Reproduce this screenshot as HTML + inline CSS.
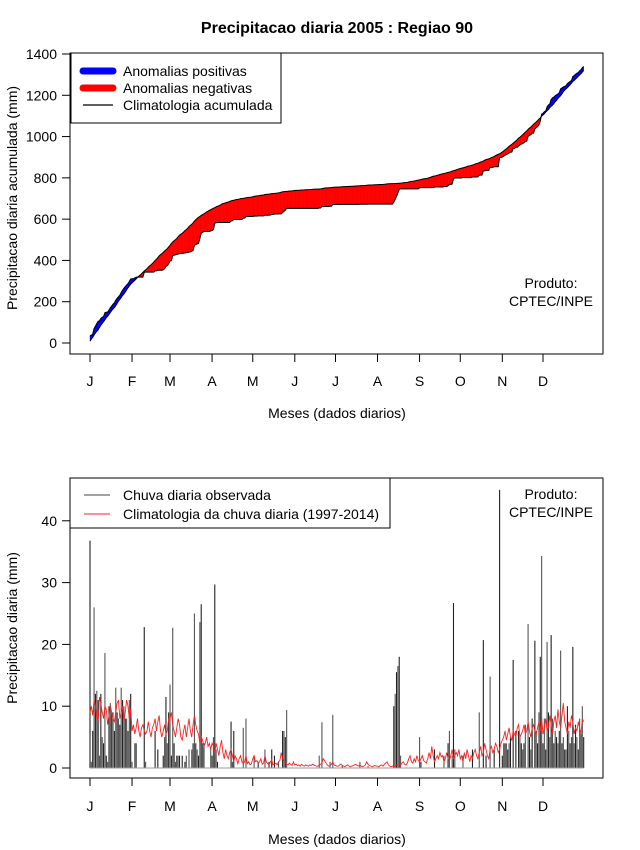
<!DOCTYPE html>
<html><head><meta charset="utf-8"><style>
html,body{margin:0;padding:0;background:#fff;}
svg{display:block;font-family:"Liberation Sans",Arial,sans-serif;}
</style></head><body>
<svg id="chart" width="640" height="850" viewBox="0 0 640 850" xmlns="http://www.w3.org/2000/svg">
<rect width="640" height="850" fill="#fff"/>
<text x="337" y="33" text-anchor="middle" font-size="16" font-weight="bold">Precipitacao diaria 2005 : Regiao 90</text>
<g id="top"></g>
<g id="bot"></g>
</svg>
<script>
const monthLabels = ["J","F","M","A","M","J","J","A","S","O","N","D"];
const monthStartDays = [1,32,60,91,121,152,182,213,244,274,305,335];
const topTicks = [0,200,400,600,800,1000,1200,1400];
const botTicks = [0,10,20,30,40];
const obsJan = [36.8,1,6,26,12,12.5,11,2,12,5,4,18.6,2,1,10,10.5,9,9,6,13,9,8,7,13,11,10,8,8,6,11,12];
const obsFeb = [1,0,4,4,0,0,0,0,0,22.8,1,0,0,0,0,0,0,6,0,3,0,0,0,2,5,11.5,4,9];
const obsMar = [13.5,2,22.7,4,1,2,2,2,0,2,0,1,2,0,3,0,3,4,25,4,3,2,23.6,26.5,4,4,0,0,0,0,3];
const obsApr = [2,5,29.7,3,1,0,0,0,0,0,0,0,0,0,7.5,1,6,0,0,0,0,0,0,6.5,0,8,0,0,0,0];
const obsMay = [0,2,0,0,1,0,0,0,0,3,0,0,1,0,3,0,2,0,0,1,0,0,6,6,5,9.4,0,0,0,0,0];
const obsJun = [0,0,0,0,0,0,0,0,0,0,0,0,0,0,0,0,0,0,2,0,7.4,0,0,0,0,0,1,0,8.6,0];
const obsJul = [0,0,0,0,0,0.3,0,0,0,0,0,0,0,0,0,0,0,0,1,0,0,0,0,0,0.3,0,0,0,0,0,0];
const obsAug = [0,0,0,0,0,0,0,0,0,0,0,0,10,12,15.5,16.5,18,2,0,0,0,0,0,0,0,0,0,0,0,0,0];
const obsSep = [5,1,0,0,0,0,0,0,0,0,0,3,0,0,0,0,0,0,2,0,0,4,6,0,2,26.7,3,0,0,0];
const obsOct = [0,0,2,0,0,0,0,0,0,3,0,0,0,0,9,0,0,20.7,0,2,0,0,14.8,0,0,3,0,0,0,45,0];
const obsNov = [2,4,4,4,3,4,5,0,17.5,0,6,0,6,5,4,3,4,7,0,23.3,5,3,8,0,20.6,6,4,9,18,34.3];
const obsDec = [4,8,3,20.4,9,5,21.5,8,4,6,5,4,6,19,4,5,3,3,10,6,4,5,19.6,4,7,5,3,8,6,10,5];
const climJan = [9,10,8.5,11,10,8,7.5,11.5,10.5,9,8,10,9.5,7,8.5,10,9,8,7.5,9,10.5,11,8,9,10,7.5,9,11,10,8,9.5];
const climFeb = [6,7,5.5,6.5,8,6,5,6.5,7,6,5.5,6,7.5,6,5,6.5,7,8,6,7.5,8.5,6,5,6,7,5.5,6,8];
const climMar = [8,9,7,6,5,6.5,8,7,5,4.5,6,7,5,6.5,8,6,5,7,8.5,7,6,5.5,4,5,4.5,3.5,4,5,3.5,4,3];
const climApr = [4,3.5,2.5,4,3,2,3.5,4.5,2.5,1.5,3,2,1.5,2.5,3,2,1,2,1.5,0.7,1.5,2,1,0.7,1,2,0.7,1,0.5,0.7];
const climMay = [1.5,2,1,1.2,0.8,1,1.5,0.6,0.8,2,1,0.7,0.5,1,1.3,0.5,0.6,0.8,0.5,1,1.2,2.5,1.5,1,0.8,0.6,0.5,0.8,0.6,0.4,1];
const climJun = [0.5,0.6,0.4,0.5,0.3,0.6,0.4,0.3,0.5,0.4,0.3,0.5,0.4,0.6,0.5,0.4,0.3,0.3,0.5,0.6,0.8,1.5,1.2,0.8,0.5,0.3,0.4,0.6,1,0.5];
const climJul = [0.4,0.3,0.3,0.5,0.6,0.4,0.3,0.2,0.4,0.5,0.3,0.2,0.3,0.4,0.5,0.6,0.4,0.3,0.5,0.3,0.2,0.3,0.5,1,0.6,0.4,0.3,0.2,0.3,0.4,0.3];
const climAug = [0.3,0.2,0.4,0.5,0.3,0.6,0.8,1,0.5,0.3,0.2,0.3,0.2,0.3,0.5,0.4,0.6,0.5,0.8,1,0.6,0.5,0.8,1.5,2,1,0.8,1.5,1,2,1.2];
const climSep = [1,1.5,2,1.2,1,0.8,1.5,2.5,1.5,3.5,2,1,1.5,2,1.5,2.5,1.8,2,1,1.5,2.5,1.5,1.2,2,3,1.5,2,2.5,2,3];
const climOct = [1.5,2,1,2.5,1.5,3,2,1,2,1.5,2.5,3,2,1.5,2.5,3.5,2,2.5,4,3,2,1.5,3,3.5,2.5,3,4,3.5,2.5,3,4];
const climNov = [4.5,5,6,4.5,5.5,6.5,5,4.5,6,5.5,5,6.5,7,5,5.5,6,7,5.5,6,7.5,6,5,6.5,7,6,5.5,6.5,7.5,6,8];
const climDec = [5.5,6.5,8,6,6.5,8.5,7,5.5,7.5,8.5,6.5,9.5,7.5,6.5,8.5,10.5,7.5,6.5,5.5,7.5,6.5,8.5,7.5,5.5,6.5,6,7.5,6.5,5.5,8,7.5];

const obs = [].concat(obsJan,obsFeb,obsMar,obsApr,obsMay,obsJun,obsJul,obsAug,obsSep,obsOct,obsNov,obsDec);
const clim = [].concat(climJan,climFeb,climMar,climApr,climMay,climJun,climJul,climAug,climSep,climOct,climNov,climDec);
const NS="http://www.w3.org/2000/svg";
function mk(parent,tag,attrs){const e=document.createElementNS(NS,tag);for(const k in attrs)e.setAttribute(k,attrs[k]);parent.appendChild(e);return e;}
function xS(d){return 90+(d-1)*453/334;}
function yT(v){return 343-v*289/1400;}
function yB(v){return 768-v*6.18;}

const cumObs=[],cumClim=[];let a=0,b=0;
for(let i=0;i<obs.length;i++){a+=obs[i];b+=clim[i];cumObs.push(a);cumClim.push(b);}

function drawAxes(g,top,bottom,yFn,ticks,ylabel,ylabelY,monthY,xlabelY,prefix){
  const box=mk(g,'rect',{x:70,y:top,width:533,height:bottom-top,fill:'none',stroke:'#000','stroke-width':1});
  
  
  ticks.forEach(t=>{
    const y=yFn(t);
    const tl=mk(g,'line',{x1:62,x2:70,y1:y,y2:y,stroke:'#000'});
    
    
    const tx=mk(g,'text',{x:57,y:y+5,'text-anchor':'end','font-size':14});
    tx.textContent=t;
    
    
  });
  monthStartDays.forEach((d,i)=>{
    const x=xS(d);
    const tl=mk(g,'line',{x1:x,x2:x,y1:bottom,y2:bottom+8,stroke:'#000'});
    
    
    const tx=mk(g,'text',{x:x,y:monthY,'text-anchor':'middle','font-size':14});
    tx.textContent=monthLabels[i];
    
    
  });
  const xl=mk(g,'text',{x:337,y:xlabelY,'text-anchor':'middle','font-size':14});
  xl.textContent='Meses (dados diarios)';
  
  
  const yl=mk(g,'text',{x:0,y:0,'text-anchor':'middle','font-size':14,transform:`translate(17,${ylabelY}) rotate(-90)`});
  yl.textContent=ylabel;
  
  
}

// TOP PANEL
const gt=document.getElementById('top');
for(let i=0;i<cumObs.length-1;i++){
  const pos=(cumObs[i]+cumObs[i+1])>(cumClim[i]+cumClim[i+1]);
  const p=mk(gt,'polygon',{points:`${xS(i+1)},${yT(cumObs[i])} ${xS(i+2)},${yT(cumObs[i+1])} ${xS(i+2)},${yT(cumClim[i+1])} ${xS(i+1)},${yT(cumClim[i])}`,fill:pos?'#0000ff':'#ff0000',stroke:pos?'#0000ff':'#ff0000','stroke-width':0.4});
  
  
}
const ptsO=cumObs.map((v,i)=>`${xS(i+1)},${yT(v)}`).join(' ');
const ptsC=cumClim.map((v,i)=>`${xS(i+1)},${yT(v)}`).join(' ');
const lo=mk(gt,'polyline',{points:ptsO,fill:'none',stroke:'#000','stroke-width':1});


const lc=mk(gt,'polyline',{points:ptsC,fill:'none',stroke:'#000','stroke-width':1});


drawAxes(gt,53,354,yT,topTicks,'Precipitacao diaria acumulada (mm)',198,386,418,'top');

const lg=mk(gt,'g',{});


mk(lg,'rect',{x:71,y:53,width:210,height:70,fill:'#fff',stroke:'#000'});
const topLeg=[['Anomalias positivas','#0000ff',7,71],['Anomalias negativas','#ff0000',7,88],['Climatologia acumulada','#000',1.2,105]];
topLeg.forEach(l=>{
  const e=mk(lg,'g',{});
  
  
  mk(e,'line',{x1:83,x2:113,y1:l[3],y2:l[3],stroke:l[1],'stroke-width':l[2],'stroke-linecap':l[2]>2?'round':'butt'});
  const t=mk(e,'text',{x:123,y:l[3]+5,'font-size':14});t.textContent=l[0];
});
const pr1=mk(gt,'text',{x:551,y:288,'text-anchor':'middle','font-size':14});pr1.textContent='Produto:';


const pr2=mk(gt,'text',{x:551,y:306,'text-anchor':'middle','font-size':14});pr2.textContent='CPTEC/INPE';



// BOTTOM PANEL
const gb=document.getElementById('bot');
obs.forEach((v,i)=>{
  if(v<=0)return;
  const x=xS(i+1);
  const l=mk(gb,'line',{x1:x,x2:x,y1:yB(0),y2:yB(v),stroke:i%2?'#555':'#222','stroke-width':1.1});
  
  
});
const base=mk(gb,'line',{x1:xS(1),x2:xS(365),y1:yB(0),y2:yB(0),stroke:'#999','stroke-width':1});


const cl=mk(gb,'polyline',{points:clim.map((v,i)=>`${xS(i+1)},${yB(v)}`).join(' '),fill:'none',stroke:'#ff2020','stroke-width':0.9});


drawAxes(gb,478,778,yB,botTicks,'Precipitacao diaria (mm)',628,811,844,'bottom');
const lg2=mk(gb,'g',{});


mk(lg2,'rect',{x:70,y:478,width:320,height:50,fill:'#fff',stroke:'#000'});
const botLeg=[['Chuva diaria observada','#444',495],['Climatologia da chuva diaria (1997-2014)','#ff2020',514]];
botLeg.forEach(l=>{
  const e=mk(lg2,'g',{});
  
  
  mk(e,'line',{x1:84,x2:110,y1:l[2],y2:l[2],stroke:l[1],'stroke-width':1});
  const t=mk(e,'text',{x:123,y:l[2]+5,'font-size':14});t.textContent=l[0];
});
const pb1=mk(gb,'text',{x:551,y:499,'text-anchor':'middle','font-size':14});pb1.textContent='Produto:';


const pb2=mk(gb,'text',{x:551,y:517,'text-anchor':'middle','font-size':14});pb2.textContent='CPTEC/INPE';


</script>
</body></html>
